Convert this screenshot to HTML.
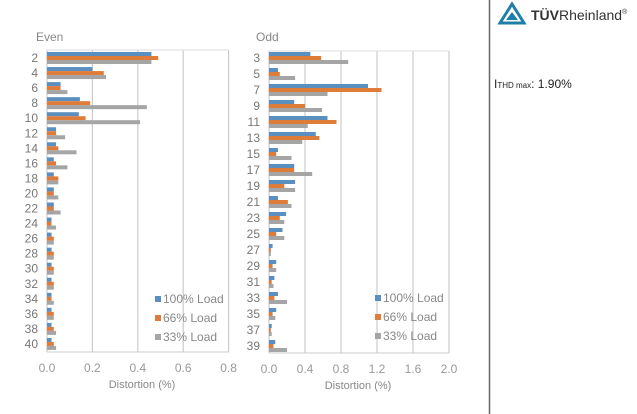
<!DOCTYPE html>
<html><head><meta charset="utf-8"><style>
html,body{margin:0;padding:0;background:#fff;width:637px;height:414px;overflow:hidden}
svg{display:block;font-family:"Liberation Sans",sans-serif}
</style></head><body>
<svg id="s" width="637" height="414" xmlns="http://www.w3.org/2000/svg">
<rect width="637" height="414" fill="#fff"/>
<line x1="489.5" y1="0" x2="489.5" y2="414" stroke="#666" stroke-width="1.5"/>
<polygon points="512,4 500,23 524,23" fill="none" stroke="#1f7fa8" stroke-width="3"/>
<polygon points="512,12 506,20 518,20" fill="#1f7fa8"/>
<text x="531" y="20" font-size="14" fill="#333"><tspan font-weight="bold">TÜV</tspan>Rheinland<tspan font-size="7" dy="-6">®</tspan></text>
<text x="494" y="88" font-size="12" fill="#222">I<tspan font-size="8">THD max</tspan>: 1.90%</text>
<text x="36" y="41" font-size="12" fill="#888">Even</text>
<text x="256" y="41" font-size="12" fill="#888">Odd</text>
<text x="142" y="388" font-size="11" fill="#888" text-anchor="middle">Distortion (%)</text>
<text x="358" y="389" font-size="11" fill="#888" text-anchor="middle">Distortion (%)</text>
<g id="g"></g>
</svg>
<script>
var g=document.getElementById('g'),h='';
function chart(x0,ppu,top,bot,gstep,gn,labels,data,y0,dy,lx,ly){
 for(var i=0;i<=gn;i++){var x=x0+i*gstep*ppu;
  h+='<line x1="'+x+'" y1="'+top+'" x2="'+x+'" y2="'+bot+'" stroke="#ccc" stroke-width="1.2"/>';
  h+='<text x="'+x+'" y="'+(bot+20)+'" font-size="12" fill="#999" text-anchor="middle">'+(i*gstep).toFixed(1)+'</text>';}
 h+='<line x1="'+x0+'" y1="'+top+'" x2="'+(x0+gn*gstep*ppu)+'" y2="'+top+'" stroke="#ddd"/>';
 h+='<line x1="'+x0+'" y1="'+bot+'" x2="'+(x0+gn*gstep*ppu)+'" y2="'+bot+'" stroke="#ccc"/>';
 var c=['#5b8fbf','#e07c3a','#a5a5a5'];
 for(var r=0;r<labels.length;r++){var y=y0+r*dy;
  h+='<text x="'+(x0-9)+'" y="'+(y+4)+'" font-size="12" fill="#777" text-anchor="end">'+labels[r]+'</text>';
  for(var k=0;k<3;k++)h+='<rect x="'+x0+'" y="'+(y-6+k*4)+'" width="'+(data[r][k]*ppu)+'" height="4" fill="'+c[k]+'"/>';}
 var L=['100% Load','66% Load','33% Load'];
 for(var k=0;k<3;k++){h+='<rect x="'+lx+'" y="'+(ly+k*19-4)+'" width="6" height="6" fill="'+c[k]+'"/><text x="'+(lx+8)+'" y="'+(ly+k*19+3)+'" font-size="12" fill="#888">'+L[k]+'</text>';}
}
var ev=[[.46,.49,.46],[.2,.25,.26],[.06,.06,.09],[.145,.19,.44],[.14,.17,.41],[.04,.04,.08],[.04,.05,.13],[.03,.04,.09],[.03,.05,.05],[.03,.03,.05],[.03,.03,.06],[.02,.02,.04],[.02,.03,.03],[.02,.03,.03],[.02,.03,.03],[.02,.03,.03],[.02,.02,.03],[.02,.03,.03],[.02,.03,.04],[.02,.03,.04]];
var el=[];for(var i=2;i<=40;i+=2)el.push(i);
chart(47,227,50,352,.2,4,el,ev,58,15.05,155,300);
var od=[[.46,.58,.88],[.1,.12,.29],[1.1,1.25,.65],[.28,.4,.59],[.65,.75,.43],[.52,.56,.37],[.1,.08,.25],[.28,.28,.48],[.29,.17,.29],[.1,.21,.25],[.19,.12,.17],[.15,.08,.17],[.04,.02,.02],[.08,.04,.08],[.06,.03,.05],[.1,.06,.2],[.08,.04,.07],[.03,.02,.03],[.07,.05,.2]];
var ol=[];for(var i=3;i<=39;i+=2)ol.push(i);
chart(269,90,51,353,.4,5,ol,od,58,16,375,299);
g.innerHTML=h;
</script>
</body></html>
